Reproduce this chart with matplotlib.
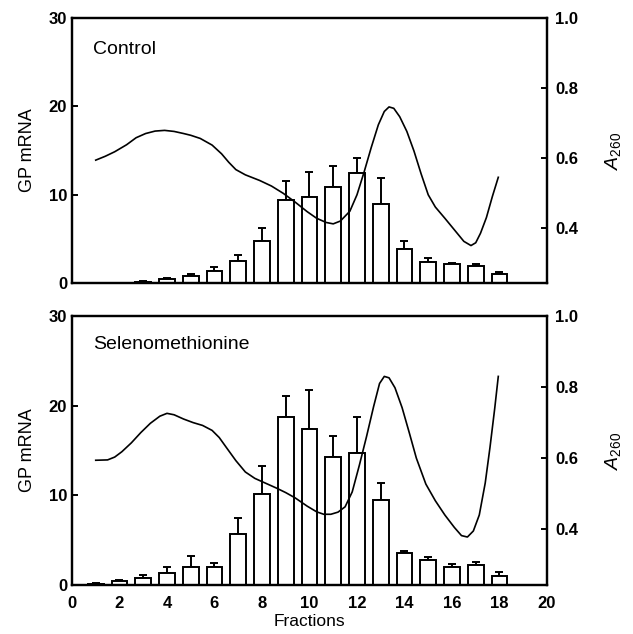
import numpy as np
import matplotlib
matplotlib.use('Agg')
import matplotlib.pyplot as plt

plt.rcParams['font.family'] = ['Liberation Sans', 'DejaVu Sans']
plt.rcParams['mathtext.fontset'] = 'custom'
plt.rcParams['mathtext.rm'] = 'Liberation Sans'
plt.rcParams['mathtext.it'] = 'Liberation Sans:italic'

# bar data (GP mRNA)
fractions = np.arange(1, 19)
control_mrna = [0.0, 0.0, 0.15, 0.45, 0.85, 1.4, 2.5, 4.7, 9.4, 9.7,
                10.9, 12.4, 8.9, 3.9, 2.4, 2.1, 1.9, 1.0]
control_err = [0.0, 0.0, 0.05, 0.15, 0.15, 0.4, 0.7, 1.5, 2.1, 2.9,
               2.3, 1.8, 3.0, 0.9, 0.4, 0.2, 0.3, 0.3]
seleno_mrna = [0.15, 0.4, 0.8, 1.3, 2.0, 2.0, 5.65, 10.1, 18.7, 17.4,
               14.3, 14.7, 9.5, 3.6, 2.8, 2.0, 2.2, 1.0]
seleno_err = [0.05, 0.2, 0.3, 0.7, 1.2, 0.5, 1.8, 3.2, 2.4, 4.3,
              2.3, 4.0, 1.9, 0.2, 0.3, 0.3, 0.4, 0.5]

# A260 profile
control_a260_x = [1.0, 1.4, 1.8, 2.3, 2.7, 3.1, 3.5, 3.9, 4.3, 4.7, 5.0, 5.4,
                  5.9, 6.3, 6.6, 6.9, 7.3, 7.9, 8.4, 8.9, 9.4, 9.9, 10.3,
                  10.7, 11.0, 11.3, 11.7, 12.0, 12.3, 12.6, 12.9, 13.15,
                  13.35, 13.55, 13.8, 14.1, 14.4, 14.7, 15.0, 15.3, 15.7,
                  16.1, 16.5, 16.8, 17.0, 17.2, 17.45, 17.7, 17.95]
control_a260 = [0.594, 0.605, 0.618, 0.638, 0.658, 0.670, 0.677, 0.679, 0.676,
                0.670, 0.665, 0.656, 0.637, 0.612, 0.588, 0.567, 0.552, 0.536,
                0.520, 0.499, 0.474, 0.447, 0.428, 0.416, 0.412, 0.420, 0.448,
                0.495, 0.560, 0.630, 0.695, 0.733, 0.746, 0.742, 0.718, 0.676,
                0.620, 0.555, 0.495, 0.460, 0.428, 0.395, 0.362, 0.350, 0.358,
                0.385, 0.430, 0.490, 0.545]

seleno_a260_x = [1.0, 1.5, 1.8, 2.1, 2.5, 2.9, 3.3, 3.7, 4.0, 4.3, 4.7, 5.1,
                 5.5, 5.9, 6.2, 6.5, 6.9, 7.3, 7.7, 8.2, 8.6, 9.0, 9.4,
                 9.9, 10.3, 10.6, 10.9, 11.2, 11.5, 11.8, 12.1, 12.4, 12.7,
                 12.95, 13.15, 13.35, 13.6, 13.9, 14.2, 14.5, 14.9, 15.3,
                 15.7, 16.1, 16.4, 16.65, 16.9, 17.15, 17.4, 17.6, 17.8, 17.95]
seleno_a260 = [0.594, 0.595, 0.603, 0.618, 0.643, 0.672, 0.698, 0.718, 0.726,
               0.722, 0.710, 0.700, 0.692, 0.678, 0.658, 0.630, 0.593, 0.561,
               0.543, 0.528, 0.516, 0.503, 0.488, 0.465, 0.449, 0.442, 0.442,
               0.448, 0.463, 0.505, 0.580, 0.660, 0.745, 0.810, 0.830, 0.826,
               0.798, 0.742, 0.672, 0.600, 0.527, 0.480, 0.440, 0.405, 0.382,
               0.378, 0.395, 0.440, 0.530, 0.630, 0.740, 0.830]

panels = [
    ('Control', control_mrna, control_err, control_a260_x, control_a260),
    ('Selenomethionine', seleno_mrna, seleno_err, seleno_a260_x, seleno_a260),
]
positions = [[0.1137, 0.5536, 0.7504, 0.418], [0.1137, 0.0773, 0.7504, 0.4243]]

fig = plt.figure(figsize=(6.33, 6.34), dpi=100)

for i, (name, mrna, err, ax_x, a260) in enumerate(panels):
    ax = fig.add_axes(positions[i])
    ax.bar(fractions, mrna, width=0.66, facecolor='white', edgecolor='black',
           linewidth=1.4, zorder=2)
    ax.errorbar(fractions, mrna, yerr=[np.zeros(len(err)), err], fmt='none',
                ecolor='black', elinewidth=1.4, capsize=2.8, capthick=1.4, zorder=1)
    ax.set_xlim(0, 20)
    ax.set_ylim(0, 30)
    ax.set_yticks([0, 10, 20, 30])
    ax.set_ylabel('GP mRNA', fontsize=13, labelpad=9)
    ax.tick_params(axis='y', direction='in', length=4, width=1.4, labelsize=12)
    for lab in ax.get_yticklabels():
        lab.set_fontweight('bold')
    ax.text(0.045, 0.88 if i == 0 else 0.895, name, transform=ax.transAxes,
            fontsize=14, va='center', ha='left')
    for sp in ax.spines.values():
        sp.set_linewidth(1.6)
    if i == 0:
        ax.set_xticks([])
    else:
        ax.set_xticks(np.arange(0, 21, 2))
        ax.tick_params(axis='x', length=0, labelsize=12, pad=8)
        for lab in ax.get_xticklabels():
            lab.set_fontweight('bold')
        ax.set_xlabel('Fractions', fontsize=12.5, labelpad=2)

    ax2 = ax.twinx()
    ax2.plot(ax_x, a260, color='black', linewidth=1.2)
    ax2.set_ylim(0.243, 1.0)
    ax2.set_yticks([0.4, 0.6, 0.8, 1.0])
    ax2.set_yticklabels(['0.4', '0.6', '0.8', '1.0'])
    ax2.tick_params(axis='y', direction='in', length=4, width=1.4, labelsize=12, pad=6)
    for lab in ax2.get_yticklabels():
        lab.set_fontweight('bold')
    ax2.set_ylabel('$A_{260}$', fontsize=14, labelpad=18)
    for sp in ax2.spines.values():
        sp.set_linewidth(1.6)

fig.savefig('out.png', dpi=100)
